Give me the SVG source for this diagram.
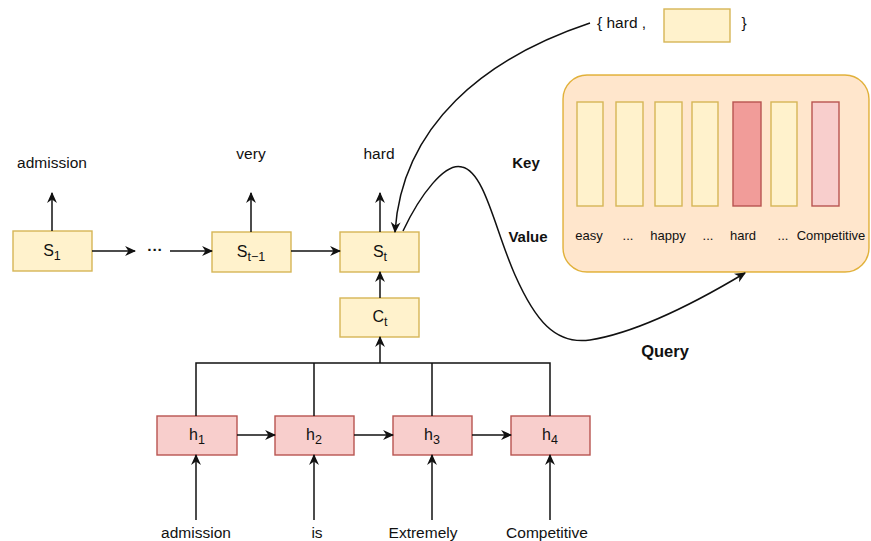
<svg xmlns="http://www.w3.org/2000/svg" width="871" height="541" viewBox="0 0 871 541">
<style>
text{font-family:"Liberation Sans",Arial,sans-serif;fill:#111}
.lbl{font-size:15.5px;text-anchor:middle}
.val{font-size:13px;text-anchor:middle}
.bold{font-weight:bold;font-size:15px;text-anchor:middle}
.sub{font-size:12.5px}
.y{fill:#fff2cc;stroke:#d6b656;stroke-width:1.4}
.r{fill:#f8cecc;stroke:#b85450;stroke-width:1.4}
.rd{fill:#f19c99;stroke:#b85450;stroke-width:1.4}
.ln{fill:none;stroke:#111;stroke-width:1.5}
.ar{fill:none;stroke:#111;stroke-width:1.5;marker-end:url(#ah)}
</style>
<defs>
<marker id="ah" viewBox="0 0 10 10" refX="9" refY="5" markerWidth="11" markerHeight="11" markerUnits="userSpaceOnUse" orient="auto">
<path d="M0,0.5 L10,5 L0,9.5 L3,5 Z" fill="#111"/>
</marker>
</defs>

<g id="memory">
<rect x="563" y="75" width="306" height="197" rx="24" fill="#ffe6cc" stroke="#d79b00" stroke-opacity="0.75" stroke-width="1.4"/>
<rect class="y" x="577" y="102" width="26" height="104"/>
<rect class="y" x="616" y="102" width="27" height="104"/>
<rect class="y" x="655" y="102" width="27" height="104"/>
<rect class="y" x="692" y="102" width="26" height="104"/>
<rect class="rd" x="733" y="102" width="28" height="104"/>
<rect class="y" x="771" y="102" width="26" height="104"/>
<rect class="r" x="812" y="102" width="27" height="104"/>
<text class="val" x="589" y="240">easy</text>
<text class="val" x="628" y="240">...</text>
<text class="val" x="668" y="240">happy</text>
<text class="val" x="708" y="240">...</text>
<text class="val" x="743" y="240">hard</text>
<text class="val" x="783" y="240">...</text>
<text class="val" x="831" y="240">Competitive</text>
</g>
<g id="key-label"><text class="bold" x="526" y="168">Key</text></g>
<g id="value-label"><text class="bold" x="528" y="242">Value</text></g>
<g id="query-label"><text class="bold" x="665" y="357" style="font-size:16.5px">Query</text></g>

<g id="pair">
<text class="lbl" x="597" y="28" style="text-anchor:start">{ hard ,</text>
<rect class="y" x="664" y="9" width="66" height="33"/>
<text class="lbl" x="744" y="28">}</text>
</g>

<g id="s1"><rect class="y" x="13" y="231" width="79" height="40"/><text class="lbl" x="52" y="256" style="font-size:16px">S<tspan class="sub" dy="4">1</tspan></text></g>
<g id="dots"><text class="lbl" x="155" y="255" style="font-weight:bold">···</text></g>
<g id="st1"><rect class="y" x="212" y="232" width="79" height="40"/><text class="lbl" x="251" y="257" style="font-size:16px">S<tspan class="sub" dy="4">t−1</tspan></text></g>
<g id="st"><rect class="y" x="340" y="232" width="79" height="40"/><text class="lbl" x="380" y="257" style="font-size:16px">S<tspan class="sub" dy="4">t</tspan></text></g>
<g id="ct"><rect class="y" x="340" y="298" width="79" height="39"/><text class="lbl" x="380" y="322" style="font-size:16px">C<tspan class="sub" dy="4">t</tspan></text></g>

<g id="h1"><rect class="r" x="157" y="416" width="80" height="39"/><text class="lbl" x="197" y="440" style="font-size:16px">h<tspan class="sub" dy="4">1</tspan></text></g>
<g id="h2"><rect class="r" x="275" y="416" width="79" height="39"/><text class="lbl" x="314" y="440" style="font-size:16px">h<tspan class="sub" dy="4">2</tspan></text></g>
<g id="h3"><rect class="r" x="393" y="416" width="79" height="39"/><text class="lbl" x="432" y="440" style="font-size:16px">h<tspan class="sub" dy="4">3</tspan></text></g>
<g id="h4"><rect class="r" x="511" y="416" width="79" height="39"/><text class="lbl" x="550" y="440" style="font-size:16px">h<tspan class="sub" dy="4">4</tspan></text></g>

<g id="out-admission"><text class="lbl" x="52" y="168">admission</text></g>
<g id="out-very"><text class="lbl" x="251" y="159">very</text></g>
<g id="out-hard"><text class="lbl" x="379" y="159">hard</text></g>

<g id="in-admission"><text class="lbl" x="196" y="538">admission</text></g>
<g id="in-is"><text class="lbl" x="317" y="538">is</text></g>
<g id="in-extremely"><text class="lbl" x="423" y="538">Extremely</text></g>
<g id="in-competitive"><text class="lbl" x="547" y="538">Competitive</text></g>

<g id="connectors">
<path class="ar" d="M52,231 V193"/>
<path class="ar" d="M251,232 V193"/>
<path class="ar" d="M380,232 V193"/>
<path class="ar" d="M92,251 H135"/>
<path class="ar" d="M170,251 H212"/>
<path class="ar" d="M291,251 H340"/>
<path class="ar" d="M380,298 V272"/>
<path class="ln" d="M196,416 V363 H550 V416 M314,416 V363 M432,416 V363"/>
<path class="ar" d="M380,363 V337"/>
<path class="ar" d="M237,435 H275"/>
<path class="ar" d="M354,435 H393"/>
<path class="ar" d="M472,435 H511"/>
<path class="ar" d="M196,520 V455"/>
<path class="ar" d="M314,520 V455"/>
<path class="ar" d="M432,520 V455"/>
<path class="ar" d="M550,520 V455"/>
<path class="ar" d="M590,23 C485,58 402,125 395,232"/>
<path class="ar" d="M403,231 C420,195 445,162 462,167 C485,172 495,230 515,275 C535,320 555,345 590,340 C640,332 700,300 745,273"/>
</g>
</svg>
